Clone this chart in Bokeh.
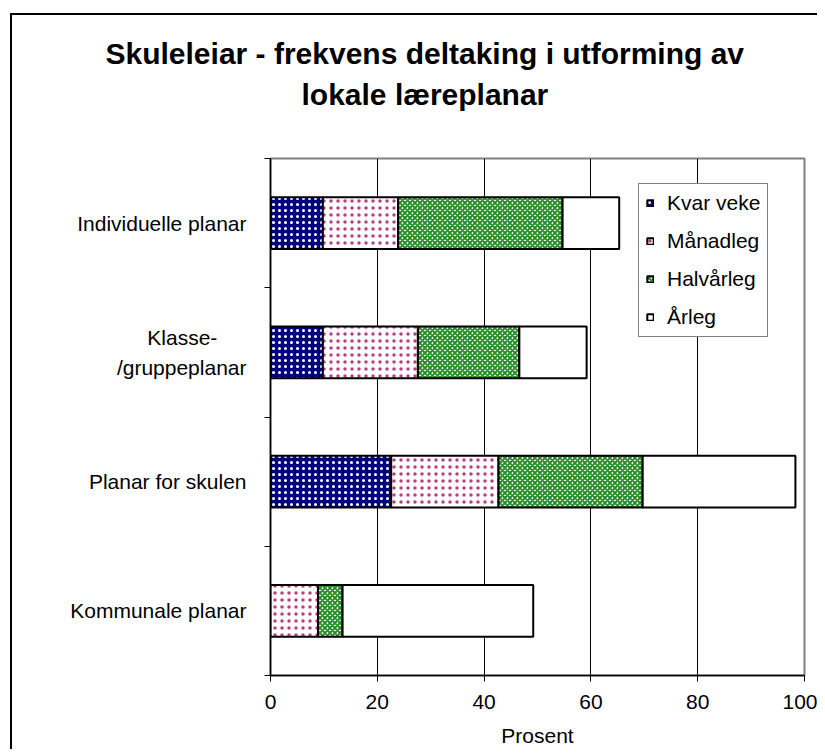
from bokeh.plotting import figure
from bokeh.models import (ColumnDataSource, Range1d, FixedTicker, Title, Legend,
                          LegendItem)
from bokeh.embed import file_html
from bokeh.resources import INLINE

# ---- data ----
categories = ["Individuelle planar", "Klasse-\u00a0\u00a0\u00a0\u00a0\u00a0\n/gruppeplanar",
              "Planar for skulen", "Kommunale planar"]
series = ["Kvar veke", "Månadleg", "Halvårleg", "Årleg"]
kvar_veke = [9.8, 9.8, 22.6, 0.0]
manadleg = [14.1, 17.8, 20.1, 8.9]
halvarleg = [30.8, 19.0, 27.0, 4.6]
arleg = [10.6, 12.6, 28.6, 35.7]
x_ticks = [0, 20, 40, 60, 80, 100]
title_lines = ["Skuleleiar - frekvens deltaking i utforming av", "lokale læreplanar"]
x_label = "Prosent"

n = len(categories)
ypos = [n - i - 0.5 for i in range(n)]
src = ColumnDataSource(dict(y=ypos, s0=kvar_veke, s1=manadleg, s2=halvarleg, s3=arleg))

FONT = "Liberation Sans"

p = figure(output_backend="svg", toolbar_location=None, title=None,
           frame_width=534, frame_height=517,
           min_border_left=258, min_border_top=143,
           min_border_right=13, min_border_bottom=72,
           x_range=Range1d(0, 100), y_range=Range1d(0, n))
# outer chart border (left and top edges visible in the window)
p.margin = (13, 0, 0, 10)
p.styles = {"border-left": "2px solid black", "border-top": "2px solid black"}

p.background_fill_color = "white"
p.border_fill_color = "white"
p.outline_line_color = "#808080"
p.outline_line_width = 2

renderers = p.hbar_stack(["s0", "s1", "s2", "s3"], y="y", height=0.4, source=src,
                         fill_color=["#000080", "white", "white", "white"],
                         hatch_pattern=["dot", "dot", "diagonal_cross", " "],
                         hatch_color=["white", "#b8407e", "#2a8f2a", "white"],
                         hatch_scale=[6, 7, 5, 6],
                         hatch_weight=[1.6, 1.6, 2.0, 1],
                         line_color="black", line_width=2)

# grid
p.ygrid.visible = False
p.xgrid.ticker = FixedTicker(ticks=x_ticks[1:-1])
p.xgrid.grid_line_color = "black"
p.xgrid.grid_line_width = 1

# x axis
p.xaxis.ticker = FixedTicker(ticks=x_ticks)
p.xaxis.axis_line_color = "black"
p.xaxis.axis_line_width = 1.5
p.xaxis.major_tick_out = 6
p.xaxis.major_tick_in = 0
p.xaxis.major_tick_line_color = "black"
p.xaxis.minor_tick_line_color = None
p.xaxis.major_label_text_font = FONT
p.xaxis.major_label_text_font_size = "21px"
p.xaxis.major_label_text_color = "black"
p.xaxis.major_label_standoff = 13
p.xaxis.axis_label = x_label
p.xaxis.axis_label_text_font = FONT
p.xaxis.axis_label_text_font_size = "21px"
p.xaxis.axis_label_text_font_style = "normal"
p.xaxis.axis_label_text_color = "black"
p.xaxis.axis_label_standoff = 12

# y axis
p.yaxis.ticker = FixedTicker(ticks=ypos, minor_ticks=list(range(n + 1)))
p.yaxis.major_label_overrides = {y: c for y, c in zip(ypos, categories)}
p.yaxis.axis_line_color = "black"
p.yaxis.axis_line_width = 1.5
p.yaxis.major_tick_out = 0
p.yaxis.major_tick_in = 0
p.yaxis.minor_tick_out = 6
p.yaxis.minor_tick_in = 0
p.yaxis.minor_tick_line_color = "black"
p.yaxis.minor_tick_line_width = 1
p.yaxis.major_label_standoff = 18
p.yaxis.major_label_text_font = FONT
p.yaxis.major_label_text_font_size = "21px"
p.yaxis.major_label_text_color = "black"
p.yaxis.major_label_text_line_height = 1.3
p.yaxis.major_label_orientation = "horizontal"

# legend
legend = Legend(items=[LegendItem(label=s, renderers=[r]) for s, r in zip(series, renderers)],
                location=(368, 338),
                label_text_font=FONT, label_text_font_size="21px", label_text_color="black",
                glyph_width=8, glyph_height=8, label_height=24, label_standoff=13,
                spacing=14, padding=7, margin=0,
                border_line_color="black", border_line_width=1,
                background_fill_color="white", background_fill_alpha=1)
p.add_layout(legend, "center")

# title: spacer closest to frame, then line 2, then line 1
p.add_layout(Title(text="\u00a0", text_font_size="10px", standoff=32), "above")
p.add_layout(Title(text=title_lines[1], text_font=FONT, text_font_size="30px",
                   text_font_style="bold", text_color="black", align="left",
                   offset=31, standoff=6), "above")
p.add_layout(Title(text=title_lines[0], text_font=FONT, text_font_size="30px",
                   text_font_style="bold", text_color="black", align="left",
                   offset=-165, standoff=6), "above")

open("out.html", "w").write(file_html(p, INLINE))
